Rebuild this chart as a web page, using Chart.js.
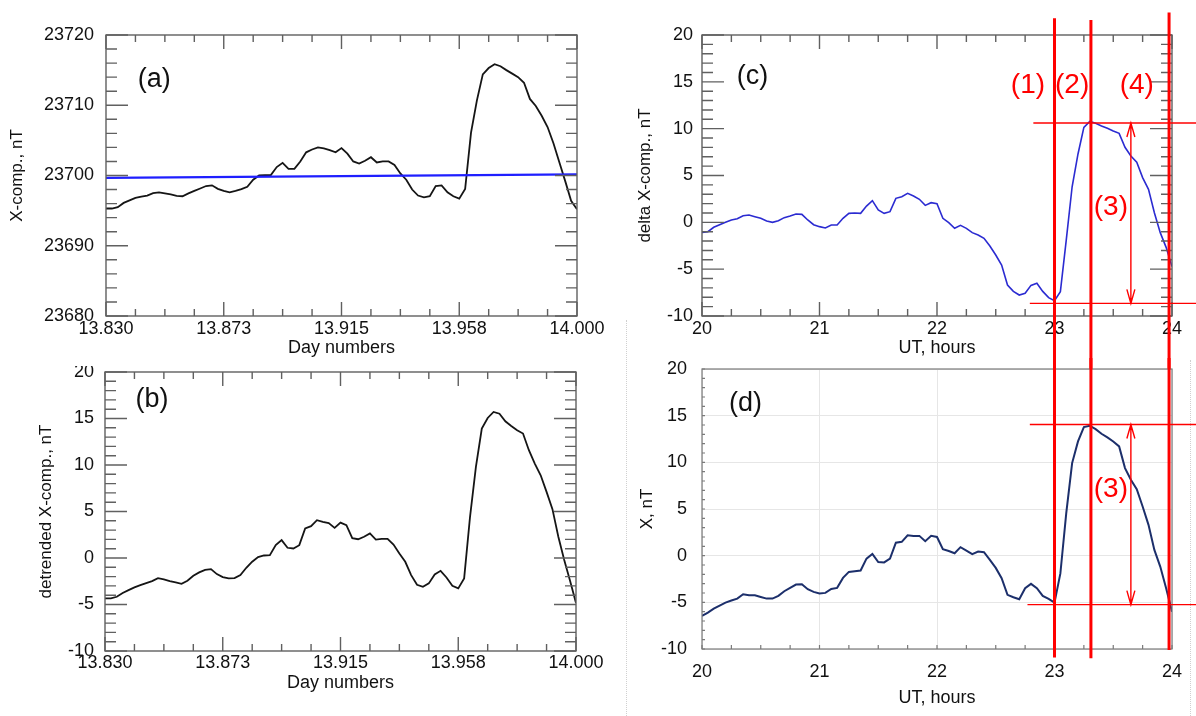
<!DOCTYPE html>
<html>
<head>
<meta charset="utf-8">
<script src="https://cdn.jsdelivr.net/npm/chart.js@4.4.0/dist/chart.umd.min.js"></script>
<style>
  html, body { margin: 0; padding: 0; background: #fff; }
  body { width: 1196px; height: 716px; position: relative; overflow: hidden; }
  canvas { position: absolute; }
  #ca { left: 0; top: 0; }
  #cb { left: 0; top: 366px; }
  #cc { left: 598px; top: 0; }
  #cd { left: 598px; top: 358px; }
  .sep { position: absolute; border-left: 1px dotted #d0d0d0; }
</style>
</head>
<body>
<div class="sep" style="left:626px;top:320px;height:396px"></div>
<div class="sep" style="left:1190px;top:360px;height:356px"></div>
<canvas id="ca" width="620" height="370"></canvas>
<canvas id="cb" width="620" height="350"></canvas>
<canvas id="cc" width="598" height="370"></canvas>
<canvas id="cd" width="598" height="358"></canvas>
<script>
// ---- data ----
const hours = [
  20, 20.05, 20.1, 20.15, 20.2, 20.25, 20.3, 20.35, 20.4, 20.45,
  20.5, 20.55, 20.6, 20.65, 20.7, 20.75, 20.8, 20.85, 20.9, 20.95,
  21, 21.05, 21.1, 21.15, 21.2, 21.25, 21.3, 21.35, 21.4, 21.45,
  21.5, 21.55, 21.6, 21.65, 21.7, 21.75, 21.8, 21.85, 21.9, 21.95,
  22, 22.05, 22.1, 22.15, 22.2, 22.25, 22.3, 22.35, 22.4, 22.45,
  22.5, 22.55, 22.6, 22.65, 22.7, 22.75, 22.8, 22.85, 22.9, 22.95,
  23, 23.05, 23.1, 23.15, 23.2, 23.25, 23.3, 23.35, 23.4, 23.45,
  23.5, 23.55, 23.6, 23.65, 23.7, 23.75, 23.8, 23.85, 23.9, 23.95,
  24
];
const dayLabels = ["13.830", "13.873", "13.915", "13.958", "14.000"];

// (a) X-component, nT
const xComp = [
  23695.3, 23695.3, 23695.5, 23696.1, 23696.45, 23696.8, 23697.0, 23697.15, 23697.5, 23697.6,
  23697.45, 23697.3, 23697.1, 23697.05, 23697.45, 23697.8, 23698.15, 23698.5, 23698.6, 23698.1,
  23697.8, 23697.6, 23697.8, 23698.05, 23698.4, 23699.4, 23700.0, 23700.05, 23700.05, 23701.2,
  23701.8, 23700.95, 23700.95, 23702.0, 23703.3, 23703.7, 23704.0, 23703.85, 23703.6, 23703.3,
  23703.9, 23703.1, 23702.0, 23701.7, 23702.1, 23702.6, 23701.85, 23702.0, 23702.0, 23701.5,
  23700.3, 23699.4, 23698.0, 23697.15, 23696.9, 23697.05, 23698.5, 23698.6, 23697.6, 23697.05,
  23696.7, 23698.1, 23706.1, 23710.7, 23714.4, 23715.3, 23715.85, 23715.55, 23715.0, 23714.5,
  23714.0, 23713.2, 23710.9, 23709.9, 23708.5, 23706.9, 23704.6, 23701.9, 23699.2, 23696.4,
  23695.2
];
const trendHours = [20, 24];
const trendValues = [23699.65, 23700.15];

// (b) detrended X-component
const detrended = [
  -4.35, -4.35, -4.17, -3.77, -3.45, -3.16, -2.91, -2.7, -2.48, -2.16,
  -2.3, -2.48, -2.63, -2.77, -2.45, -1.91, -1.55, -1.27, -1.2, -1.73,
  -2.05, -2.2, -2.16, -1.84, -1.05, -0.4, 0.1, 0.27, 0.3, 1.38,
  1.92, 1.1, 1.02, 1.38, 3.17, 3.42, 4.07, 3.89, 3.75, 3.24,
  3.81, 3.53, 2.13, 2.02, 2.28, 2.64, 1.98, 2.06, 2.06, 1.45,
  0.48, -0.41, -1.84, -2.88, -3.1, -2.73, -1.77, -1.38, -2.09, -2.99,
  -3.27, -2.2, 4.42, 9.8, 13.91, 15.06, 15.7, 15.52, 14.7, 14.2,
  13.73, 13.38, 11.59, 10.15, 8.9, 7.11, 5.25, 2.28, -0.22, -2.48,
  -4.85
];

// (c) delta X-component
const deltaX = [
  -1.07, -1.0, -0.53, -0.25, 0.0, 0.25, 0.39, 0.71, 0.78, 0.6,
  0.43, 0.14, 0.0, 0.18, 0.5, 0.68, 0.89, 0.85, 0.25, -0.25,
  -0.46, -0.6, -0.28, -0.28, 0.43, 0.96, 1.0, 0.96, 1.74, 2.31,
  1.32, 0.96, 1.14, 2.56, 2.74, 3.1, 2.81, 2.46, 1.81, 2.1,
  2.0, 0.43, -0.04, -0.64, -0.32, -0.64, -1.1, -1.35, -1.7, -2.53,
  -3.49, -4.56, -6.69, -7.37, -7.76, -7.58, -6.73, -6.51, -7.37, -8.04,
  -8.36, -7.4, -1.89, 3.8, 7.3, 10.14, 10.78, 10.57, 10.28, 10.04,
  9.75, 9.5, 8.01, 7.08, 6.41, 4.77, 3.52, 1.03, -1.1, -2.67,
  -4.73
];

// (d) X, nT
const xModel = [
  -6.46, -6.1, -5.67, -5.35, -5.03, -4.81, -4.6, -4.13, -4.24, -4.24,
  -4.42, -4.6, -4.6, -4.31, -3.81, -3.45, -3.1, -3.06, -3.6, -3.88,
  -4.06, -3.99, -3.56, -3.45, -2.38, -1.74, -1.67, -1.59, -0.32, 0.18,
  -0.68, -0.72, -0.32, 1.39, 1.48, 2.19, 2.12, 2.12, 1.55, 2.12,
  2.0, 0.69, 0.5, 0.26, 0.91, 0.55, 0.16, 0.44, 0.37, -0.45,
  -1.31, -2.42, -4.2, -4.46, -4.67, -3.49, -3.02, -3.49, -4.31, -4.63,
  -5.03, -1.9, 4.55, 9.92, 12.24, 13.78, 13.92, 13.56, 13.06, 12.67,
  12.24, 11.71, 9.38, 8.13, 7.13, 5.27, 3.3, 0.62, -1.17, -3.49,
  -6.0
];

// red annotations, (1) (2) (4) verticals and (3) levels
const markerHours = [23.0, 23.31, 23.975];
const markerTopC = [21.8, 21.6, 22.4];
const markerEndD = [-10.9, -11.0, -10.1];
const levelsC = [10.6, -8.65];
const levelFromC = [22.82, 22.79];
const levelsD = [14.05, -5.25];
const levelFromD = [22.79, 22.77];
const arrowHour = 23.65;

// ---- drawing ----
const FONT = "'Liberation Sans', Arial, Helvetica, sans-serif";
const RED = "#ff0000";
Chart.defaults.font.family = FONT;

const pts = (xs, ys) => xs.map((h, i) => ({ x: h, y: ys[i] }));

// IDL-style frame with inward ticks
const frameTicks = {
  id: "frameTicks",
  afterDatasetsDraw(chart, args, o) {
    const { ctx, chartArea: a, scales: { x, y } } = chart;
    ctx.save();
    ctx.strokeStyle = o.color;
    ctx.lineWidth = o.width;
    const run = (sc, minor, major, fn) => {
      const n = Math.round((sc.max - sc.min) / minor);
      for (let i = 0; i <= n; i++) {
        const v = sc.min + i * minor;
        const r = v / major;
        fn(sc.getPixelForValue(v), Math.abs(r - Math.round(r)) < 1e-6);
      }
    };
    ctx.beginPath();
    run(x, o.xMinor, o.xMajor, (p, big) => {
      const l = big ? o.xLen[0] : o.xLen[1];
      if (o.sides.includes("b")) { ctx.moveTo(p, a.bottom); ctx.lineTo(p, a.bottom - l); }
      if (o.sides.includes("t")) { ctx.moveTo(p, a.top); ctx.lineTo(p, a.top + l); }
    });
    run(y, o.yMinor, o.yMajor, (p, big) => {
      const l = big ? o.yLen[0] : o.yLen[1];
      if (o.sides.includes("l")) { ctx.moveTo(a.left, p); ctx.lineTo(a.left + l, p); }
      if (o.sides.includes("r")) { ctx.moveTo(a.right, p); ctx.lineTo(a.right - l, p); }
    });
    ctx.stroke();
    ctx.strokeRect(a.left, a.top, a.right - a.left, a.bottom - a.top);
    ctx.restore();
  }
};

const marks = {
  id: "marks",
  afterDraw(chart, args, o) {
    const { ctx, scales: { x, y } } = chart;
    ctx.save();
    (o.tags || []).forEach((t) => {
      ctx.fillStyle = t.color;
      ctx.font = t.size + "px " + FONT;
      ctx.textAlign = "center";
      ctx.textBaseline = "middle";
      ctx.fillText(t.text, x.getPixelForValue(t.x), y.getPixelForValue(t.y));
    });
    ctx.strokeStyle = RED;
    if (o.levels) {
      ctx.lineWidth = 1.4;
      o.levels.forEach((v, i) => {
        const py = y.getPixelForValue(v);
        ctx.beginPath();
        ctx.moveTo(x.getPixelForValue(o.levelFrom[i]), py);
        ctx.lineTo(chart.width, py);
        ctx.stroke();
      });
      const ax = x.getPixelForValue(arrowHour);
      const y1 = y.getPixelForValue(o.levels[0]);
      const y2 = y.getPixelForValue(o.levels[1]);
      ctx.beginPath();
      ctx.moveTo(ax, y1); ctx.lineTo(ax, y2);
      ctx.moveTo(ax - 4, y1 + 14); ctx.lineTo(ax, y1); ctx.lineTo(ax + 4, y1 + 14);
      ctx.moveTo(ax - 4, y2 - 14); ctx.lineTo(ax, y2); ctx.lineTo(ax + 4, y2 - 14);
      ctx.stroke();
    }
    if (o.verticals) {
      ctx.lineWidth = 3;
      markerHours.forEach((h, i) => {
        const px = x.getPixelForValue(h);
        const top = o.vFrom ? y.getPixelForValue(o.vFrom[i]) : 0;
        const bot = o.vTo ? y.getPixelForValue(o.vTo[i]) : chart.height;
        ctx.beginPath();
        ctx.moveTo(px, top);
        ctx.lineTo(px, bot);
        ctx.stroke();
      });
    }
    ctx.restore();
  }
};

function panel(id, o) {
  const cv = document.getElementById(id);
  const W = cv.width, H = cv.height;
  const tickFont = { family: FONT, size: 18 };
  return new Chart(cv, {
    type: "line",
    data: { datasets: o.datasets },
    options: {
      responsive: false,
      animation: false,
      devicePixelRatio: 1,
      layout: { padding: { left: 0, top: o.area.top, right: W - o.area.right, bottom: 0 } },
      elements: { point: { radius: 0 }, line: { tension: 0 } },
      plugins: {
        legend: { display: false },
        tooltip: { enabled: false },
        frameTicks: o.frame,
        marks: o.marks
      },
      scales: {
        x: {
          type: "linear", min: 20, max: 24,
          afterFit: (s) => { s.height = H - o.area.bottom; s.paddingLeft = 0; s.paddingRight = 0; },
          grid: { display: !!o.grid, color: "#e6e6e6", drawTicks: false },
          border: { display: false },
          ticks: { stepSize: 1, padding: o.xPad, color: "#111", font: tickFont,
                   maxRotation: 0, autoSkip: false, callback: o.xLabel || ((v) => String(v)) },
          title: { display: true, text: o.xTitle, color: "#111", font: tickFont,
                   padding: { top: 0, bottom: o.xTitlePad } }
        },
        y: {
          type: "linear", min: o.yMin, max: o.yMax,
          afterFit: (s) => { s.width = o.area.left; s.paddingTop = 0; s.paddingBottom = 0; },
          grid: { display: !!o.grid, color: "#e6e6e6", drawTicks: false },
          border: { display: false },
          ticks: { stepSize: o.yStep, padding: o.yPad, color: "#111", font: tickFont,
                   callback: (v) => String(v) },
          title: { display: true, text: o.yTitle, color: "#111", font: { family: FONT, size: 17 },
                   padding: { top: o.yTitlePad, bottom: 0 } }
        }
      }
    },
    plugins: [frameTicks, marks]
  });
}

const idlFrame = (yMinor, yMajor) => ({
  color: "#606060", width: 1.4, sides: "tblr",
  xMinor: 0.25, xMajor: 1, xLen: [14, 7],
  yMinor, yMajor, yLen: [22, 11]
});
const dayTick = (v) => dayLabels[Math.round(v - 20)];

// (a)
panel("ca", {
  area: { left: 106, top: 35, right: 577, bottom: 316 },
  yMin: 23680, yMax: 23720, yStep: 10, yPad: 12, yTitlePad: 6.8,
  xPad: 2, xTitlePad: 11.2, xLabel: dayTick,
  xTitle: "Day numbers", yTitle: "X-comp., nT",
  frame: idlFrame(2, 10),
  marks: { tags: [{ text: "(a)", x: 20.41, y: 23713.7, color: "#111", size: 27 }] },
  datasets: [
    { data: pts(trendHours, trendValues), borderColor: "#1f1fff", borderWidth: 2.2 },
    { data: pts(hours, xComp), borderColor: "#151515", borderWidth: 1.8 }
  ]
});

// (b)
panel("cb", {
  area: { left: 105, top: 6, right: 576, bottom: 285 },
  yMin: -10, yMax: 20, yStep: 5, yPad: 11, yTitlePad: 35.8,
  xPad: 1.2, xTitlePad: 22.2, xLabel: dayTick,
  xTitle: "Day numbers", yTitle: "detrended X-comp., nT",
  frame: idlFrame(1, 5),
  marks: { tags: [{ text: "(b)", x: 20.4, y: 16.99, color: "#111", size: 27 }] },
  datasets: [
    { data: pts(hours, detrended), borderColor: "#151515", borderWidth: 1.8 }
  ]
});

// (c)
panel("cc", {
  area: { left: 104, top: 35, right: 574, bottom: 316 },
  yMin: -10, yMax: 20, yStep: 5, yPad: 9, yTitlePad: 36.8,
  xPad: 2, xTitlePad: 11.2,
  xTitle: "UT, hours", yTitle: "delta X-comp., nT",
  frame: idlFrame(1, 5),
  marks: {
    tags: [
      { text: "(c)", x: 20.43, y: 15.52, color: "#111", size: 27 },
      { text: "(1)", x: 22.774, y: 14.66, color: RED, size: 28 },
      { text: "(2)", x: 23.15, y: 14.66, color: RED, size: 28 },
      { text: "(4)", x: 23.7, y: 14.66, color: RED, size: 28 },
      { text: "(3)", x: 23.48, y: 1.6, color: RED, size: 28 }
    ],
    levels: levelsC, levelFrom: levelFromC,
    verticals: true, vFrom: markerTopC
  },
  datasets: [
    { data: pts(hours, deltaX), borderColor: "#2b2bd1", borderWidth: 1.6 }
  ]
});

// (d)
panel("cd", {
  area: { left: 104, top: 11, right: 574, bottom: 291 },
  yMin: -10, yMax: 20, yStep: 5, yPad: 15, yTitlePad: 39.3,
  xPad: 12.2, xTitlePad: 7.2, grid: true,
  xTitle: "UT, hours", yTitle: "X, nT",
  frame: { color: "#7a7a7a", width: 1.2, sides: "bl",
           xMinor: 0.25, xMajor: 1, xLen: [4, 4], yMinor: 1, yMajor: 5, yLen: [3, 3] },
  marks: {
    tags: [
      { text: "(d)", x: 20.37, y: 16.28, color: "#111", size: 27 },
      { text: "(3)", x: 23.48, y: 7.1, color: RED, size: 28 }
    ],
    levels: levelsD, levelFrom: levelFromD,
    verticals: true, vTo: markerEndD
  },
  datasets: [
    { data: pts(hours, xModel), borderColor: "#1c2f6b", borderWidth: 2 }
  ]
});
</script>
</body>
</html>
